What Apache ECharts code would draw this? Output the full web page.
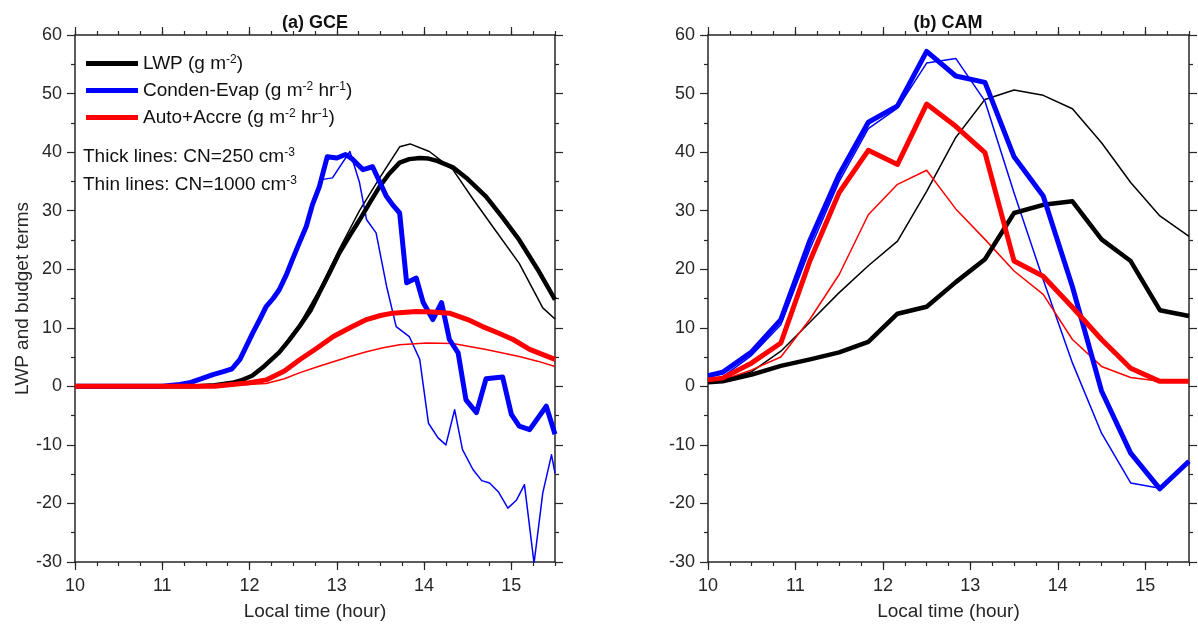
<!DOCTYPE html>
<html>
<head>
<meta charset="utf-8">
<script src="https://cdn.jsdelivr.net/npm/echarts@6/dist/echarts.min.js"></script>
<style>
  html, body { margin: 0; padding: 0; background: #fff; }
  #chart { width: 1198px; height: 626px; }
</style>
</head>
<body>
<div id="chart"></div>
<script>
// ---------- Data ----------
const xTickLabels = [10, 11, 12, 13, 14, 15];
const yTickLabels = [-30, -20, -10, 0, 10, 20, 30, 40, 50, 60];
const panelTitles = ['(a) GCE', '(b) CAM'];

// (a) GCE: [time (hour), value]
const gceLwpThick = [[10,0],[11.4,0],[11.6,0.2],[11.8,0.6],[11.9,1.0],[12.03,1.8],[12.15,3.2],[12.34,5.8],[12.45,7.8],[12.57,10.2],[12.7,13.0],[12.8,16.0],[12.92,19.5],[13.03,22.8],[13.15,25.8],[13.26,28.4],[13.38,31.4],[13.49,34.1],[13.6,36.3],[13.72,38.2],[13.83,38.8],[13.95,39.0],[14.05,38.9],[14.15,38.5],[14.33,37.4],[14.5,35.4],[14.71,32.4],[14.9,28.8],[15.09,25.0],[15.3,20.0],[15.5,14.8]];
const gceLwpThin = [[10,0],[11.4,0],[11.8,0.6],[12.03,1.9],[12.34,6.0],[12.57,10.5],[12.8,16.5],[13.03,23.5],[13.26,30.0],[13.5,35.8],[13.72,40.9],[13.84,41.4],[14.06,40.1],[14.33,37.0],[14.56,32.0],[14.8,27.0],[15.09,21.0],[15.36,13.4],[15.5,11.5]];
const gceCondThick = [[10,0],[11.0,0],[11.2,0.3],[11.31,0.6],[11.45,1.3],[11.58,2.0],[11.7,2.5],[11.8,3.0],[11.89,4.6],[12.04,9.2],[12.12,11.5],[12.19,13.6],[12.27,15.0],[12.34,16.5],[12.42,19.0],[12.49,21.6],[12.57,24.5],[12.65,27.3],[12.72,31.0],[12.8,34.1],[12.89,39.2],[13.0,39.0],[13.1,39.6],[13.18,38.8],[13.3,37.0],[13.41,37.5],[13.57,32.4],[13.65,30.8],[13.72,29.6],[13.8,17.7],[13.91,18.5],[13.99,14.3],[14.1,11.4],[14.2,14.3],[14.29,8.0],[14.39,5.7],[14.48,-2.3],[14.6,-4.5],[14.71,1.3],[14.9,1.6],[15.0,-4.8],[15.09,-6.8],[15.21,-7.4],[15.4,-3.4],[15.5,-8.2]];
const gceCondThin = [[10,0],[11.0,0],[11.2,0.3],[11.31,0.6],[11.45,1.3],[11.58,2.0],[11.7,2.5],[11.8,3.0],[11.89,4.6],[12.04,9.2],[12.12,11.5],[12.19,13.6],[12.27,15.0],[12.34,16.5],[12.42,19.0],[12.49,21.6],[12.57,24.5],[12.65,27.3],[12.72,31.0],[12.82,35.3],[12.95,35.6],[13.15,40.1],[13.26,34.8],[13.34,28.5],[13.45,26.2],[13.57,17.1],[13.68,10.2],[13.83,8.5],[13.95,4.6],[14.05,-6.3],[14.16,-8.8],[14.25,-10.0],[14.35,-4.0],[14.44,-10.8],[14.56,-14.2],[14.66,-16.1],[14.75,-16.5],[14.85,-18.0],[14.96,-20.8],[15.06,-19.4],[15.15,-16.8],[15.26,-30.2],[15.36,-18.2],[15.46,-11.7],[15.5,-14.8]];
const gceAutoThick = [[10,0],[11.6,0],[11.8,0.3],[12.0,0.6],[12.19,1.1],[12.4,2.6],[12.57,4.5],[12.77,6.5],[12.96,8.5],[13.15,10.0],[13.34,11.4],[13.5,12.1],[13.64,12.5],[13.91,12.8],[14.1,12.7],[14.29,12.5],[14.5,11.4],[14.67,10.2],[14.85,9.1],[15.02,8.0],[15.21,6.3],[15.5,4.6]];
const gceAutoThin = [[10,0],[11.6,0],[11.8,0.2],[12.19,0.5],[12.4,1.3],[12.57,2.3],[12.77,3.3],[12.96,4.2],[13.15,5.1],[13.34,5.9],[13.53,6.6],[13.72,7.1],[14.03,7.4],[14.33,7.3],[14.71,6.3],[15.09,5.1],[15.3,4.3],[15.5,3.4]];

// (b) CAM
const camTime = [10, 10.167, 10.5, 10.833, 11.167, 11.5, 11.833, 12.167, 12.5, 12.833, 13.167, 13.5, 13.833, 14.167, 14.5, 14.833, 15.167, 15.5];
const camLwpThick = [0.7, 0.85, 2.0, 3.5, 4.6, 5.8, 7.6, 12.4, 13.6, 17.8, 21.7, 29.6, 31.0, 31.6, 25.1, 21.4, 13.0, 12.0];
const camLwpThin = [0.8, 1.1, 2.5, 6.0, 11.0, 16.0, 20.6, 24.8, 33.3, 42.5, 49.0, 50.6, 49.7, 47.4, 41.6, 34.8, 29.1, 25.6];
const camCondThick = [1.8, 2.4, 5.9, 11.4, 25.0, 36.2, 45.1, 47.9, 57.2, 53.0, 51.9, 39.2, 32.5, 17.0, -0.8, -11.4, -17.5, -12.8];
const camCondThin = [1.2, 1.6, 5.3, 10.5, 23.5, 35.0, 44.0, 47.5, 55.2, 56.0, 48.7, 33.0, 18.2, 4.0, -8.0, -16.5, -17.4, -13.0];
const camAutoThick = [1.1, 1.4, 4.0, 7.4, 21.5, 33.1, 40.3, 37.9, 48.2, 44.4, 39.9, 21.4, 18.8, 13.5, 8.0, 3.1, 0.85, 0.85];
const camAutoThin = [0.9, 1.1, 2.8, 5.0, 11.5, 19.1, 29.3, 34.5, 36.9, 30.3, 25.1, 19.7, 15.7, 8.0, 3.4, 1.5, 0.85, 0.85];

const seriesNames = ['LWP', 'Conden-Evap', 'Auto+Accre'];
const legendLabels = {
  'LWP': 'LWP (g m{s|-2})',
  'Conden-Evap': 'Conden-Evap (g m{s|-2} hr{s|-1})',
  'Auto+Accre': 'Auto+Accre (g m{s|-2} hr{s|-1})'
};
const noteLines = ['Thick lines: CN=250 cm{s|-3}', 'Thin lines: CN=1000 cm{s|-3}'];

// ---------- Styling / layout ----------
const FONT = 'Liberation Sans, Arial, sans-serif';
const AX = '#262626';
const colors = { 'LWP': '#000000', 'Conden-Evap': '#0000ff', 'Auto+Accre': '#ff0000' };
const grids = [
  { left: 75, top: 35, width: 480, height: 527 },
  { left: 708, top: 35, width: 481, height: 527 }
];
const supStyle = { s: { fontSize: 12, verticalAlign: 'top', fontFamily: FONT, color: '#111' } };

function xAxesFor(g) {
  const common = { gridIndex: g, type: 'value', min: 10, max: 15.5, splitLine: { show: false } };
  const line = { show: true, onZero: false, lineStyle: { color: AX, width: 1.5 } };
  return [
    Object.assign({}, common, {
      position: 'bottom', interval: 0.25, axisLine: line,
      axisTick: { show: true, inside: false, length: 4, lineStyle: { color: AX, width: 1.2 } },
      axisLabel: { show: true, margin: 15, fontSize: 18, color: AX, fontFamily: FONT,
        formatter: v => (xTickLabels.indexOf(v) >= 0 ? String(v) : '') },
      name: 'Local time (hour)', nameLocation: 'middle', nameGap: 40,
      nameTextStyle: { fontSize: 19, color: AX, fontFamily: FONT }
    }),
    Object.assign({}, common, {
      position: 'bottom', interval: 0.25, axisLine: { show: false, onZero: false },
      axisTick: { show: true, inside: false, length: 8, customValues: xTickLabels, lineStyle: { color: AX, width: 1.2 } },
      axisLabel: { show: false }
    }),
    Object.assign({}, common, {
      position: 'top', interval: 0.25, axisLine: line,
      axisTick: { show: true, inside: false, length: 4, lineStyle: { color: AX, width: 1.2 } },
      axisLabel: { show: false }
    }),
    Object.assign({}, common, {
      position: 'top', interval: 0.25, axisLine: { show: false, onZero: false },
      axisTick: { show: true, inside: false, length: 8, customValues: xTickLabels, lineStyle: { color: AX, width: 1.2 } },
      axisLabel: { show: false }
    })
  ];
}
function yAxesFor(g) {
  const common = {
    gridIndex: g, type: 'value', min: -30, max: 60, interval: 10, splitLine: { show: false },
    axisLine: { show: true, onZero: false, lineStyle: { color: AX, width: 1.5 } },
    axisTick: { show: true, inside: false, length: 8, lineStyle: { color: AX, width: 1.2 } },
    minorTick: { show: true, splitNumber: 2, length: 4, lineStyle: { color: AX, width: 1.2 } }
  };
  return [
    Object.assign({}, common, {
      position: 'left',
      axisLabel: { show: true, margin: 13, fontSize: 18, color: AX, fontFamily: FONT },
      name: g === 0 ? 'LWP and budget terms' : '', nameLocation: 'middle', nameGap: 40,
      nameTextStyle: { fontSize: 19, color: AX, fontFamily: FONT }
    }),
    Object.assign({}, common, { position: 'right', axisLabel: { show: false } })
  ];
}

function line(name, data, g, thick) {
  return {
    type: 'line', name: name, data: data,
    xAxisIndex: g * 4, yAxisIndex: g * 2,
    showSymbol: false, symbol: 'none', clip: true, animation: false,
    color: colors[name],
    lineStyle: { color: colors[name], width: thick ? (name === 'LWP' ? 4.5 : 5) : 1.5, join: 'round' },
    z: thick ? 3 : 2
  };
}
const zip = (t, v) => t.map((x, i) => [x, v[i]]);

const series = [
  line('LWP', gceLwpThin, 0, false),
  line('Conden-Evap', gceCondThin, 0, false),
  line('Auto+Accre', gceAutoThin, 0, false),
  line('LWP', gceLwpThick, 0, true),
  line('Conden-Evap', gceCondThick, 0, true),
  line('Auto+Accre', gceAutoThick, 0, true),
  line('LWP', zip(camTime, camLwpThin), 1, false),
  line('Conden-Evap', zip(camTime, camCondThin), 1, false),
  line('Auto+Accre', zip(camTime, camAutoThin), 1, false),
  line('LWP', zip(camTime, camLwpThick), 1, true),
  line('Conden-Evap', zip(camTime, camCondThick), 1, true),
  line('Auto+Accre', zip(camTime, camAutoThick), 1, true)
];

const chart = echarts.init(document.getElementById('chart'), null, { renderer: 'canvas' });
chart.setOption({
  animation: false,
  backgroundColor: '#ffffff',
  textStyle: { fontFamily: FONT },
  title: [
    { text: panelTitles[0], left: 310, top: 9, textAlign: 'center',
      textStyle: { fontSize: 18, fontWeight: 'bold', color: '#111', fontFamily: FONT } },
    { text: panelTitles[1], left: 943, top: 9, textAlign: 'center',
      textStyle: { fontSize: 18, fontWeight: 'bold', color: '#111', fontFamily: FONT } }
  ],
  legend: {
    orient: 'vertical', left: 86, top: 54, padding: 0,
    itemWidth: 52, itemHeight: 5, itemGap: 8, icon: 'rect',
    data: seriesNames,
    formatter: n => legendLabels[n],
    textStyle: { fontSize: 19, color: '#111', fontFamily: FONT, rich: supStyle }
  },
  grid: grids,
  xAxis: xAxesFor(0).concat(xAxesFor(1)),
  yAxis: yAxesFor(0).concat(yAxesFor(1)),
  series: series,
  graphic: noteLines.map((t, i) => ({
    type: 'text', left: 83, top: 147 + i * 28, z: 10,
    style: { text: t, fontSize: 19, fontFamily: FONT, fill: '#111', rich: supStyle }
  }))
});
</script>
</body>
</html>
